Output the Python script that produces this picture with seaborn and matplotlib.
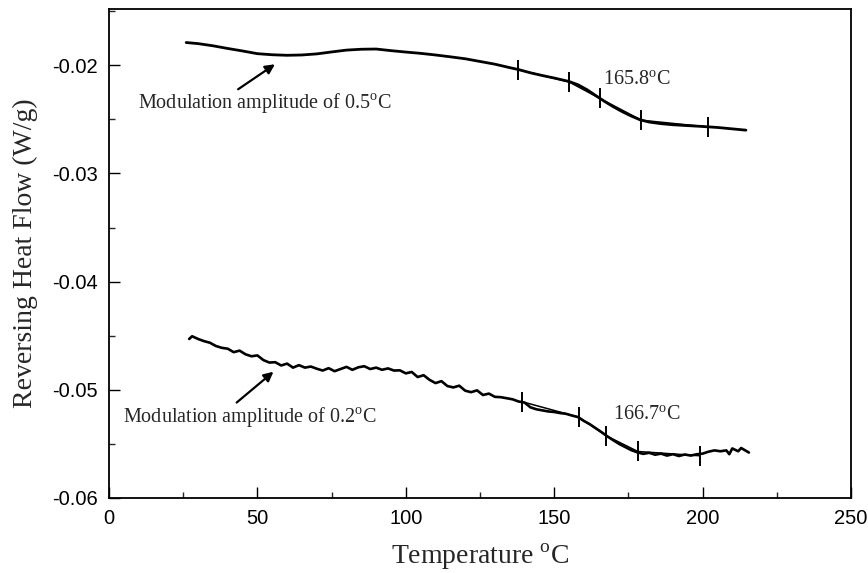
import numpy as np
import pandas as pd
import matplotlib
matplotlib.use("Agg")
import matplotlib.pyplot as plt
from matplotlib.ticker import MultipleLocator, FormatStrFormatter
import seaborn as sns

# curve for modulation amplitude 0.5 C
temp_05 = [26, 30, 35, 40, 45, 50, 55, 60, 65, 70, 75, 80, 85, 90, 95, 100, 105,
           110, 115, 120, 125, 130, 135, 138, 142, 146, 150, 155, 158, 161, 164,
           167, 170, 173, 176, 179, 182, 186, 190, 195, 200, 205, 210, 214.6]
flow_05 = [-0.01790, -0.01800, -0.01820, -0.01845, -0.01868, -0.01893, -0.01903,
           -0.01908, -0.01905, -0.01895, -0.01877, -0.01860, -0.01852, -0.01850,
           -0.01865, -0.01878, -0.01890, -0.01905, -0.01922, -0.01940, -0.01965,
           -0.01990, -0.02022, -0.02040, -0.02070, -0.02095, -0.02118, -0.02150,
           -0.02180, -0.02225, -0.02280, -0.02335, -0.02385, -0.02430, -0.02470,
           -0.02505, -0.02525, -0.02540, -0.02550, -0.02558, -0.02566, -0.02575,
           -0.02588, -0.02600]
ticks_05_t = [137.8, 155.0, 165.4, 179.4, 201.7]
ticks_05_v = [-0.0204, -0.02154, -0.02307, -0.02508, -0.0257]

# curve for modulation amplitude 0.2 C
temp_02 = [27, 28, 30, 32, 34, 36, 38, 40, 42, 44, 46, 48, 50, 52, 54, 56, 58, 60,
           62, 64, 66, 68, 70, 72, 74, 76, 78, 80, 82, 84, 86, 88, 90, 92, 94, 96,
           98, 100, 102, 104, 106, 108, 110, 112, 114, 116, 118, 120, 122, 124,
           126, 128, 130, 132, 134, 136, 138, 140, 142, 144, 146, 148, 150, 152,
           154, 156, 158, 160, 162, 164, 166, 168, 170, 172, 174, 176, 178, 180,
           182, 184, 186, 188, 190, 192, 194, 196, 198, 200, 202, 204, 206, 208,
           209, 210, 212, 213, 215.6]
flow_02 = [-0.04530, -0.04505, -0.04530, -0.04550, -0.04565, -0.04595, -0.04612,
           -0.04620, -0.04652, -0.04638, -0.04672, -0.04690, -0.04682, -0.04725,
           -0.04748, -0.04745, -0.04775, -0.04758, -0.04795, -0.04772, -0.04795,
           -0.04785, -0.04805, -0.04822, -0.04800, -0.04828, -0.04808, -0.04788,
           -0.04815, -0.04792, -0.04782, -0.04808, -0.04795, -0.04815, -0.04802,
           -0.04822, -0.04820, -0.04848, -0.04835, -0.04882, -0.04865, -0.04908,
           -0.04938, -0.04920, -0.04965, -0.04978, -0.04962, -0.05008, -0.05022,
           -0.05005, -0.05048, -0.05035, -0.05065, -0.05068, -0.05078, -0.05088,
           -0.05108, -0.05118, -0.05162, -0.05180, -0.05190, -0.05200, -0.05205,
           -0.05215, -0.05222, -0.05238, -0.05252, -0.05288, -0.05318, -0.05355,
           -0.05392, -0.05432, -0.05468, -0.05502, -0.05530, -0.05558, -0.05578,
           -0.05592, -0.05582, -0.05600, -0.05590, -0.05608, -0.05595, -0.05612,
           -0.05598, -0.05608, -0.05596, -0.05590, -0.05572, -0.05560, -0.05568,
           -0.05560, -0.05595, -0.05542, -0.05568, -0.05538, -0.05580]
ticks_02_t = [139.2, 158.3, 167.6, 178.2, 199.2]
ticks_02_v = [-0.0511, -0.05253, -0.05426, -0.0557, -0.0561]

sns.set_theme(style="ticks")
plt.rcParams["font.family"] = ["Liberation Sans", "DejaVu Sans"]
plt.rcParams["axes.unicode_minus"] = False
plt.rcParams["mathtext.fontset"] = "custom"
plt.rcParams["mathtext.rm"] = "Liberation Serif"

fig = plt.figure(figsize=(8.68, 5.73), dpi=100)
ax = fig.add_axes([0.1256, 0.1309, 0.8548, 0.8534])

df05 = pd.DataFrame({"T": temp_05, "HF": flow_05})
df02 = pd.DataFrame({"T": temp_02, "HF": flow_02})
sns.lineplot(data=df05, x="T", y="HF", ax=ax, color="black", lw=2.0, sort=False)
sns.lineplot(data=df02, x="T", y="HF", ax=ax, color="black", lw=1.9, sort=False)

# tangent construction lines and tick marks
for tt, vv in [(ticks_05_t, ticks_05_v), (ticks_02_t, ticks_02_v)]:
    ax.plot(tt, vv, color="black", lw=1.1)
    ax.plot(tt, vv, ls="none", marker="|", ms=15, mew=1.4, color="black")

serif = "Liberation Serif"
ax.text(166.4, -0.02139, r"165.8$^{\mathrm{o}}$C", family=serif, fontsize=14.5, va="center")
ax.text(169.8, -0.05233, r"166.7$^{\mathrm{o}}$C", family=serif, fontsize=14.5, va="center")
ax.text(9.8, -0.02351, r"Modulation amplitude of 0.5$^{\mathrm{o}}$C", family=serif,
        fontsize=14.5, va="center")
ax.text(4.7, -0.05252, r"Modulation amplitude of 0.2$^{\mathrm{o}}$C", family=serif,
        fontsize=14.5, va="center")

arrow = dict(arrowstyle="-|>", color="black", lw=1.6, mutation_scale=14, shrinkA=0, shrinkB=0)
ax.annotate("", xy=(55.9, -0.01991), xytext=(43.5, -0.02222), arrowprops=arrow)
ax.annotate("", xy=(55.4, -0.04833), xytext=(43.0, -0.05118), arrowprops=arrow)

ax.set_xlim(0, 250)
ax.set_ylim(-0.06, -0.0148)
ax.xaxis.set_major_locator(MultipleLocator(50))
ax.xaxis.set_minor_locator(MultipleLocator(25))
ax.yaxis.set_major_locator(MultipleLocator(0.01))
ax.yaxis.set_minor_locator(MultipleLocator(0.005))
ax.yaxis.set_major_formatter(FormatStrFormatter("%.2f"))
ax.tick_params(which="major", direction="in", length=8, width=1, labelsize=14.5, pad=8,
               colors="black")
ax.tick_params(which="minor", direction="in", length=4.5, width=1)
for s in ax.spines.values():
    s.set_linewidth(1.3)
    s.set_color("black")

ax.set_xlabel(r"Temperature $^{\mathrm{o}}$C", family=serif, fontsize=20, labelpad=10)
ax.set_ylabel("Reversing Heat Flow (W/g)", family=serif, fontsize=20, labelpad=10)

fig.savefig("out.png", dpi=100)
